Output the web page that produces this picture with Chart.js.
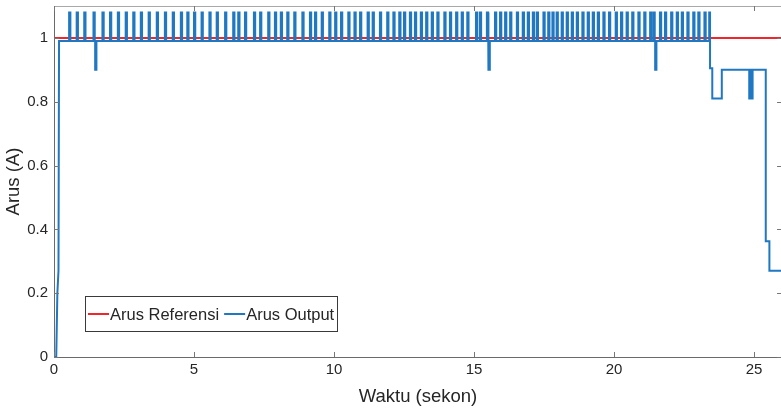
<!DOCTYPE html>
<html>
<head>
<meta charset="utf-8">
<script src="https://cdn.jsdelivr.net/npm/chart.js@4.4.1/dist/chart.umd.min.js"></script>
<style>
  html, body { margin: 0; padding: 0; overflow: hidden; background: #fff; }
  canvas { display: block; }
</style>
</head>
<body>
<canvas id="c" width="782" height="408"></canvas>
<script>
// Axis ticks
const xTicks = [0, 5, 10, 15, 20, 25];
const yTicks = [0, 0.2, 0.4, 0.6, 0.8, 1];

// Reference current (A) over time (s)
const refTime = [0, 26];
const refCurrent = [1, 1];

// Output current: start-up rise
const riseTime = [0, 0.08, 0.12, 0.16, 0.18];
const riseCurrent = [0, 0, 0.2, 0.27, 0.99];

// Output current: steady level with short overshoot pulses
const steadyLevel = 0.99;
const pulseHigh = 1.08;
const pulseWidth = 0.045;
const pulseTimes = [
  0.54, 0.81, 1.08, 1.41, 1.73, 2.00, 2.28, 2.56, 2.83, 3.10, 3.38, 3.67, 3.96, 4.24,
  4.53, 4.76, 5.00, 5.27, 5.55, 5.81, 6.11, 6.40, 6.58, 6.82, 7.14, 7.36, 7.65, 7.89,
  8.10, 8.33, 8.58, 8.87, 9.14, 9.32, 9.56, 9.83, 10.04, 10.25, 10.51, 10.73, 10.93,
  11.20, 11.38, 11.64, 11.90, 12.12, 12.33, 12.50, 12.71, 12.89, 13.10, 13.29, 13.49,
  13.69, 13.94, 14.14, 14.36, 14.56, 14.76, 15.07, 15.21, 15.46, 15.75, 15.93, 16.11,
  16.29, 16.53, 16.74, 16.92, 17.10, 17.24, 17.48, 17.65, 17.80, 17.95, 18.13, 18.31,
  18.49, 18.67, 18.87, 19.06, 19.24, 19.42, 19.62, 19.82, 20.06, 20.25, 20.45, 20.65,
  20.87, 21.08, 21.29, 21.41, 21.64, 21.82, 22.04, 22.24, 22.42, 22.62, 22.83, 23.01,
  23.23
];
// Short dips below the steady level
const dipTimes = [1.47, 15.52, 21.47];
const dipLow = 0.90;

// Output current: final segment
const tailTime = [23.40, 23.40, 23.43, 23.43, 23.51, 23.51, 23.85, 23.85, 24.83, 24.83,
  24.87, 24.87, 24.91, 24.91, 24.95, 24.95, 24.99, 24.99, 25.42, 25.42, 25.55, 25.55, 26];
const tailCurrent = [0.99, 1.08, 1.08, 0.905, 0.905, 0.81, 0.81, 0.90, 0.90, 0.81,
  0.81, 0.90, 0.90, 0.81, 0.81, 0.90, 0.90, 0.90, 0.90, 0.363, 0.363, 0.27, 0.27];

const RED = '#f0262a';
const BLUE = '#1f78c1';
const TEXT = '#262626';
const FONT = 'Liberation Sans, Arial, Helvetica, sans-serif';

function buildOutput() {
  const pts = riseTime.map((t, i) => ({ x: t, y: riseCurrent[i] }));
  const events = pulseTimes.map(t => ({ t, level: pulseHigh }))
    .concat(dipTimes.map(t => ({ t, level: dipLow })))
    .sort((a, b) => a.t - b.t);
  for (const e of events) {
    pts.push({ x: e.t, y: steadyLevel });
    pts.push({ x: e.t, y: e.level });
    pts.push({ x: e.t + pulseWidth, y: e.level });
    pts.push({ x: e.t + pulseWidth, y: steadyLevel });
  }
  tailTime.forEach((t, i) => pts.push({ x: t, y: tailCurrent[i] }));
  return pts;
}

// Box around the plot and inward tick marks on all four sides
const frame = {
  id: 'frame',
  afterDatasetsDraw(chart) {
    const { ctx, chartArea: a, scales: { x, y } } = chart;
    const len = 5;
    ctx.save();
    ctx.lineWidth = 1;
    ctx.strokeStyle = '#a8a8a8';
    ctx.beginPath();
    ctx.moveTo(a.left, a.top + 0.5); ctx.lineTo(a.right, a.top + 0.5);
    ctx.moveTo(a.right - 0.5, a.top); ctx.lineTo(a.right - 0.5, a.bottom);
    ctx.stroke();
    ctx.strokeStyle = '#6a6a6a';
    ctx.beginPath();
    ctx.moveTo(a.left, a.bottom + 0.5); ctx.lineTo(a.right, a.bottom + 0.5);
    ctx.moveTo(a.left + 0.5, a.top); ctx.lineTo(a.left + 0.5, a.bottom + 0.5);
    ctx.stroke();
    ctx.strokeStyle = '#777';
    ctx.beginPath();
    xTicks.forEach(v => {
      const px = Math.round(x.getPixelForValue(v)) + 0.5;
      ctx.moveTo(px, a.bottom); ctx.lineTo(px, a.bottom - len);
      ctx.moveTo(px, a.top); ctx.lineTo(px, a.top + len);
    });
    yTicks.forEach(v => {
      const py = Math.round(y.getPixelForValue(v)) + 0.5;
      ctx.moveTo(a.left, py); ctx.lineTo(a.left + len, py);
      ctx.moveTo(a.right, py); ctx.lineTo(a.right - len, py);
    });
    ctx.stroke();
    ctx.restore();
  }
};

// Legend box inside the plot area, lower left
const boxLegend = {
  id: 'boxLegend',
  afterDraw(chart) {
    const { ctx } = chart;
    const left = 85, top = 296, right = 338, bottom = 332;
    const cy = (top + bottom) / 2;
    ctx.save();
    ctx.fillStyle = '#fff';
    ctx.fillRect(left, top, right - left, bottom - top);
    ctx.strokeStyle = '#3a3a3a';
    ctx.lineWidth = 1;
    ctx.strokeRect(left + 0.5, top + 0.5, right - left - 1, bottom - top - 1);
    ctx.font = '16.5px ' + FONT;
    ctx.textBaseline = 'middle';
    ctx.fillStyle = TEXT;
    let xPos = left + 3;
    chart.data.datasets.forEach(ds => {
      ctx.strokeStyle = ds.borderColor;
      ctx.lineWidth = 2;
      ctx.beginPath();
      ctx.moveTo(xPos, cy); ctx.lineTo(xPos + 21, cy);
      ctx.stroke();
      xPos += 22;
      ctx.fillText(ds.label, xPos, cy + 1);
      xPos += ctx.measureText(ds.label).width + 5;
    });
    ctx.restore();
  }
};

new Chart(document.getElementById('c'), {
  type: 'line',
  data: {
    datasets: [
      {
        label: 'Arus Referensi',
        data: refTime.map((t, i) => ({ x: t, y: refCurrent[i] })),
        borderColor: RED,
        borderWidth: 2,
        pointRadius: 0,
        order: 2
      },
      {
        label: 'Arus Output',
        data: buildOutput(),
        borderColor: BLUE,
        borderWidth: 2,
        pointRadius: 0,
        tension: 0,
        order: 1
      }
    ]
  },
  options: {
    responsive: false,
    devicePixelRatio: 1,
    animation: false,
    events: [],
    layout: { padding: { top: 6, right: 0, bottom: 0, left: 0 } },
    plugins: { legend: { display: false }, tooltip: { enabled: false } },
    scales: {
      x: {
        type: 'linear',
        min: 0,
        max: 26,
        afterBuildTicks: s => { s.ticks = xTicks.map(v => ({ value: v })); },
        afterFit: s => { s.height = 51; s.paddingLeft = 0; s.paddingRight = 0; },
        grid: { display: false, drawTicks: false },
        border: { display: false },
        ticks: {
          padding: 4, autoSkip: false, maxRotation: 0, color: TEXT,
          font: { family: FONT, size: 15 },
          callback: v => String(v)
        },
        title: {
          display: true, text: 'Waktu (sekon)', color: TEXT,
          font: { family: FONT, size: 18.5 },
          padding: { top: 0, bottom: 0 }
        }
      },
      y: {
        type: 'linear',
        min: 0,
        max: 1.1,
        afterBuildTicks: s => { s.ticks = yTicks.map(v => ({ value: v })); },
        afterFit: s => { s.width = 54; s.paddingTop = 0; s.paddingBottom = 0; },
        grid: { display: false, drawTicks: false },
        border: { display: false },
        ticks: {
          padding: 6, autoSkip: false, color: TEXT,
          font: { family: FONT, size: 15 },
          callback: v => String(v)
        },
        title: {
          display: true, text: 'Arus (A)', color: TEXT,
          font: { family: FONT, size: 18.5 },
          padding: { top: 3, bottom: 0 }
        }
      }
    }
  },
  plugins: [frame, boxLegend]
});
</script>
</body>
</html>
